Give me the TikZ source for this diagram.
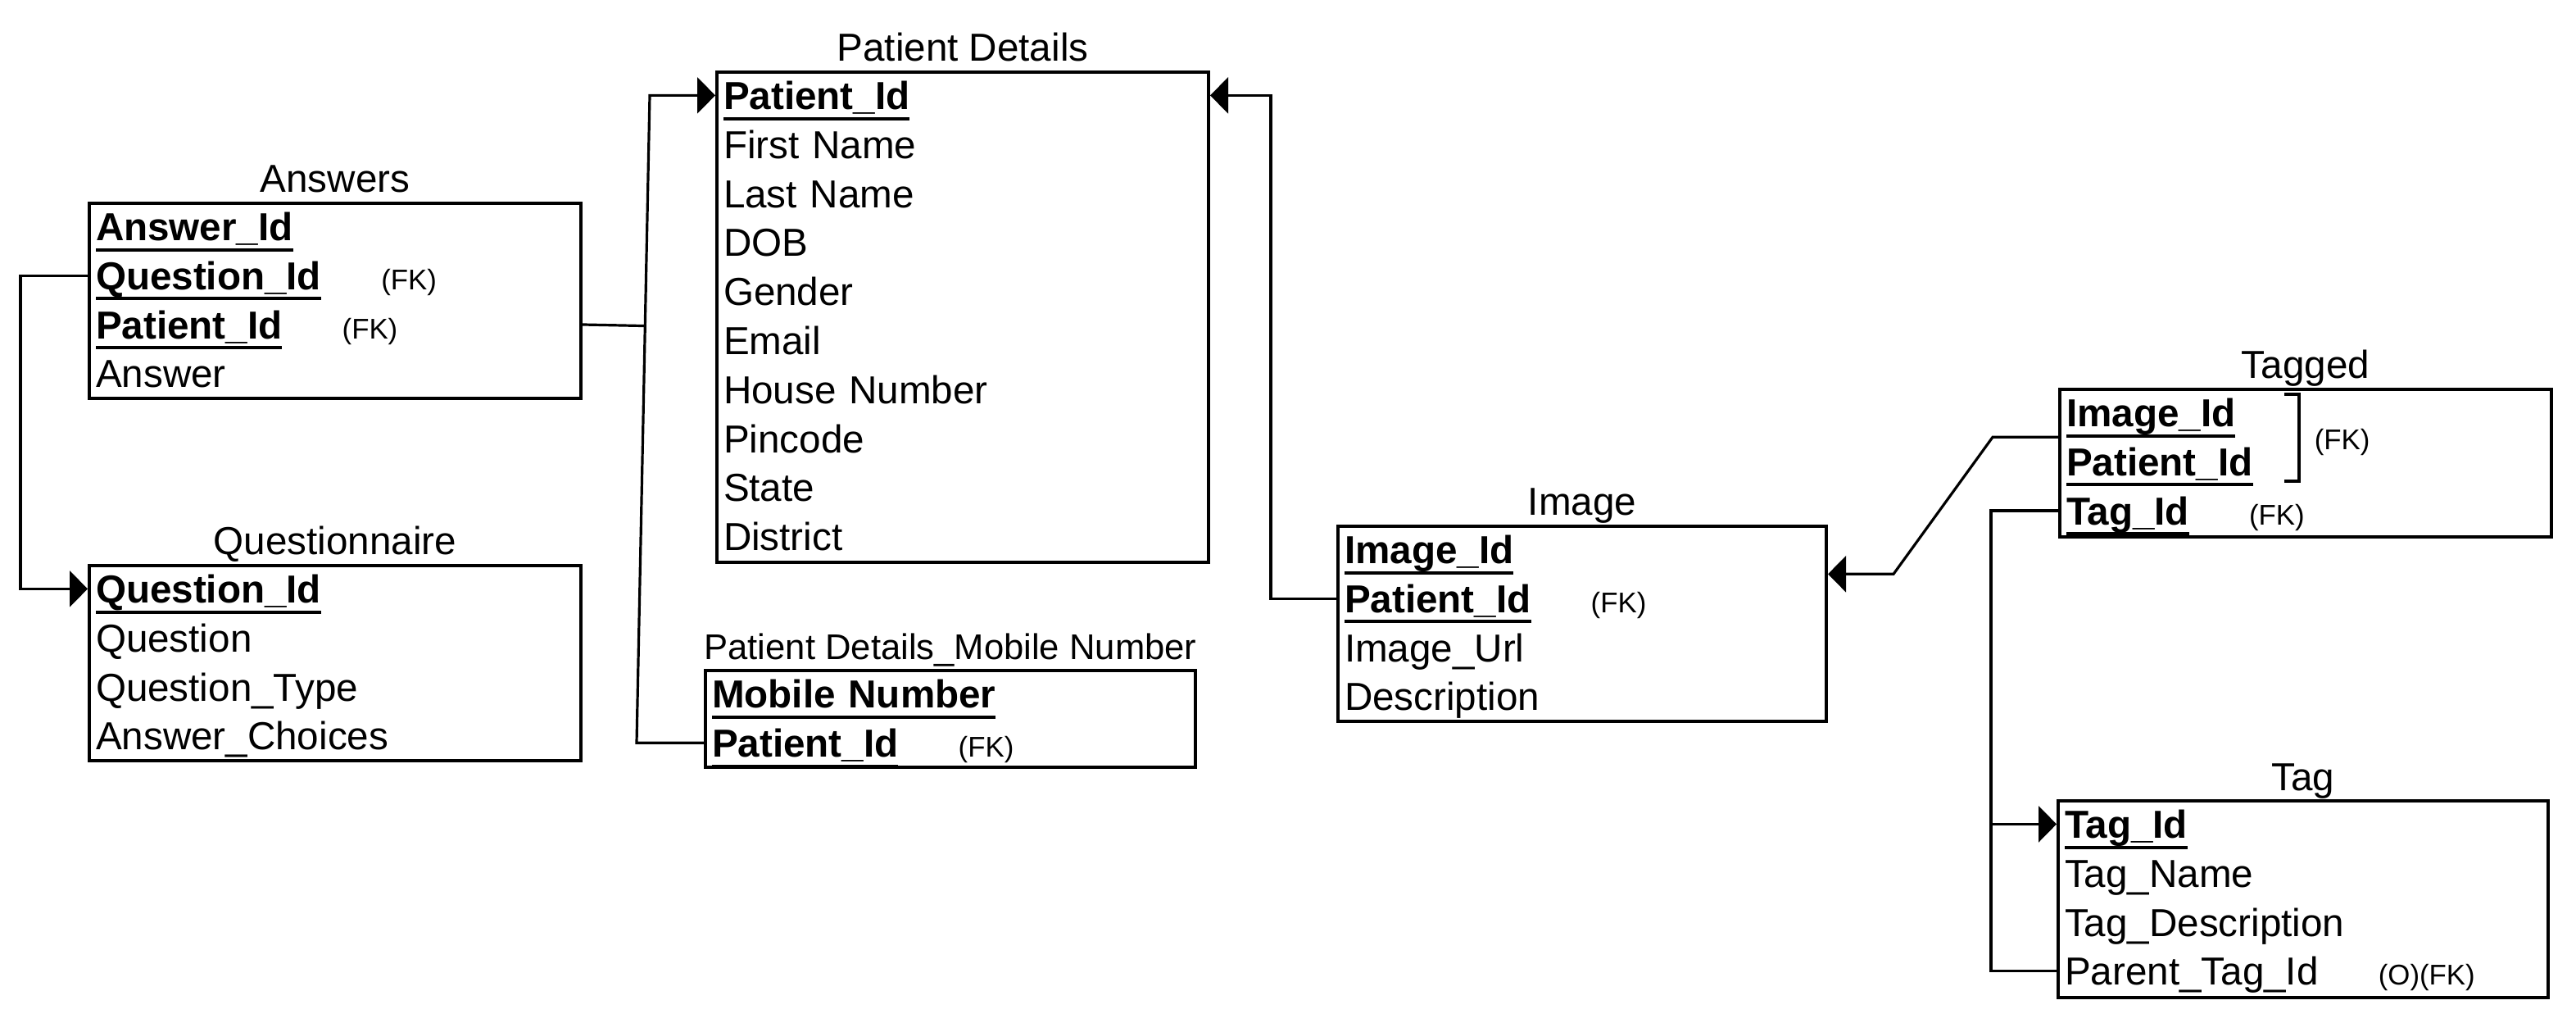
\documentclass[tikz,border=0pt]{standalone}
\usepackage{fontspec}
\setmainfont{Liberation Sans}
\usetikzlibrary{positioning}
\usetikzlibrary{calc, arrows.meta}

\newcommand{\keyattr}[1]{\setbox0\hbox{\bfseries #1}\rlap{\rule[-3.3pt]{\wd0}{1pt}}\box0}
\newcommand{\fkmark}[1]{\hspace{18.3pt}{\fontsize{8.7pt}{10pt}\selectfont #1}}

\begin{document}
\begin{tikzpicture}
[
	x=0.5pt, y=-0.5pt,
	font=\fontsize{11.9pt}{14pt}\selectfont,
	entity/.style={draw, rectangle, line width=1pt, minimum width=150pt, inner sep=0pt},
	tabletitle/.style={inner sep=0pt, outer sep=0pt, text depth=0pt},
	field/.style={inner sep=0pt, outer sep=0pt, text width=140pt, align=left, text height=11.75pt, text depth=3.2pt},
	link/.style={line width=0.8pt},
	fk/.style={link, -{Triangle[length=5.5pt, width=11pt]}}
]
	\fill[white] (0,0) rectangle (1572,624);
	\useasboundingbox (0,0) rectangle (1572,624);

	% Answers
	\node[entity, minimum height=59.5pt] (ans) at (204.5,183.5) {};
	\node[tabletitle, above=2.75pt of ans] (ansT) {Answers};
	\node[field, anchor=west] (ansAid) at ($(ans.north west)+(2.5pt,-7.6pt)$) {\keyattr{Answer\_Id}};
	\node[field, below=0pt of ansAid] (ansQid) {\keyattr{Question\_Id}\fkmark{(FK)}};
	\node[field, below=0pt of ansQid] (ansPid) {\keyattr{Patient\_Id}\fkmark{(FK)}};
	\node[field, below=0pt of ansPid] (ansAns) {Answer};

	% Questionnaire
	\node[entity, minimum height=59.5pt] (qst) at (204.5,404.5) {};
	\node[tabletitle, above=2.75pt of qst] (qstT) {Questionnaire};
	\node[field, anchor=west] (qstQid) at ($(qst.north west)+(2.5pt,-7.6pt)$) {\keyattr{Question\_Id}};
	\node[field, below=0pt of qstQid] (qstQ) {Question};
	\node[field, below=0pt of qstQ] (qstType) {Question\_Type};
	\node[field, below=0pt of qstType] (qstChoice) {Answer\_Choices};

	% Patient Details
	\node[entity, minimum height=149.5pt] (pd) at (587.5,193.5) {};
	\node[tabletitle, above=2.75pt of pd] (pdT) {Patient Details};
	\node[field, anchor=west] (pdPid) at ($(pd.north west)+(2.5pt,-7.6pt)$) {\keyattr{Patient\_Id}};
	\node[field, below=0pt of pdPid] (pdFirst) {First Name};
	\node[field, below=0pt of pdFirst] (pdLast) {Last Name};
	\node[field, below=0pt of pdLast] (pdDob) {DOB};
	\node[field, below=0pt of pdDob] (pdGender) {Gender};
	\node[field, below=0pt of pdGender] (pdEmail) {Email};
	\node[field, below=0pt of pdEmail] (pdHouse) {House Number};
	\node[field, below=0pt of pdHouse] (pdPin) {Pincode};
	\node[field, below=0pt of pdPin] (pdState) {State};
	\node[field, below=0pt of pdState] (pdDistrict) {District};

	% Patient Details_Mobile Number
	\node[entity, minimum width=149.5pt, minimum height=29.5pt] (mob) at (580,438.5) {};
	\node[tabletitle, above=2.75pt of mob, font=\fontsize{10.9pt}{13pt}\selectfont] (mobT) {Patient Details\_Mobile Number};
	\node[field, anchor=west] (mobNum) at ($(mob.north west)+(2.5pt,-7.6pt)$) {\keyattr{Mobile Number}};
	\node[field, below=0pt of mobNum] (mobPid) {\keyattr{Patient\_Id}\fkmark{(FK)}};

	% Image
	\node[entity, minimum width=149pt, minimum height=59.5pt] (img) at (965.5,380.5) {};
	\node[tabletitle, above=2.75pt of img] (imgT) {Image};
	\node[field, anchor=west] (imgIid) at ($(img.north west)+(2.5pt,-7.6pt)$) {\keyattr{Image\_Id}};
	\node[field, below=0pt of imgIid] (imgPid) {\keyattr{Patient\_Id}\fkmark{(FK)}};
	\node[field, below=0pt of imgPid] (imgUrl) {Image\_Url};
	\node[field, below=0pt of imgUrl] (imgDesc) {Description};

	% Tagged
	\node[entity, minimum height=45pt] (tgd) at (1407,282.5) {};
	\node[tabletitle, above=2.75pt of tgd] (tgdT) {Tagged};
	\node[field, anchor=west] (tgdIid) at ($(tgd.north west)+(2.5pt,-7.6pt)$) {\keyattr{Image\_Id}};
	\node[field, below=0pt of tgdIid] (tgdPid) {\keyattr{Patient\_Id}};
	\node[field, below=0pt of tgdPid] (tgdTid) {\keyattr{Tag\_Id}\fkmark{(FK)}};
	\draw[link] ($(tgd.north west)+(69pt,-2pt)$) -| ($(tgd.north west)+(73.5pt,-28.5pt)$) -- ++(-4.5pt,0);
	\node[inner sep=0pt, anchor=west, font=\fontsize{8.7pt}{10pt}\selectfont] (tgdFk) at ($(tgd.north west)+(78pt,-16.75pt)$) {(FK)};

	% Tag
	\node[entity, minimum width=149.5pt, minimum height=60pt] (tag) at (1405.5,548.5) {};
	\node[tabletitle, above=2.75pt of tag] (tagT) {Tag};
	\node[field, anchor=west] (tagTid) at ($(tag.north west)+(2.5pt,-7.6pt)$) {\keyattr{Tag\_Id}};
	\node[field, below=0pt of tagTid] (tagName) {Tag\_Name};
	\node[field, below=0pt of tagName] (tagDesc) {Tag\_Description};
	\node[field, below=0pt of tagDesc] (tagPtid) {Parent\_Tag\_Id\fkmark{(O)(FK)}};

	% connectors
	\draw[fk] (ans.west |- ansQid) -- ++(-20.5pt,0) |- (qst.west |- qstQid);

	\coordinate (busTop) at ($(pd.west |- pdPid)+(-20pt,0)$);
	\coordinate (busBot) at ($(mob.west |- mobPid)+(-20.5pt,0)$);
	\draw[fk] (mob.west |- mobPid) -- (busBot) -- (busTop) -- (pd.west |- pdPid);
	\draw[link] (ans.east |- ansPid) -- ($(busBot)!(ans.east |- ansPid)!(busTop)$);

	\draw[fk] (img.west |- imgPid) -- ++(-20pt,0) |- (pd.east |- pdPid);

	\coordinate (tgdMid) at ($(tgdIid.west)!0.5!(tgdPid.west)$);
	\coordinate (imgMid) at ($(imgIid.west)!0.5!(imgPid.west)$);
	\draw[fk] (tgd.west |- tgdMid) -- ++(-20pt,0) -- ($(img.east |- imgMid)+(20pt,0)$) -- (img.east |- imgMid);

	\draw[link] (tgd.west |- tgdTid) -- ++(-20.5pt,0) coordinate (tagBus) -- (tagBus |- tagPtid) -- (tag.west |- tagPtid);
	\draw[fk] (tagBus |- tagTid) -- (tag.west |- tagTid);
\end{tikzpicture}
\end{document}
